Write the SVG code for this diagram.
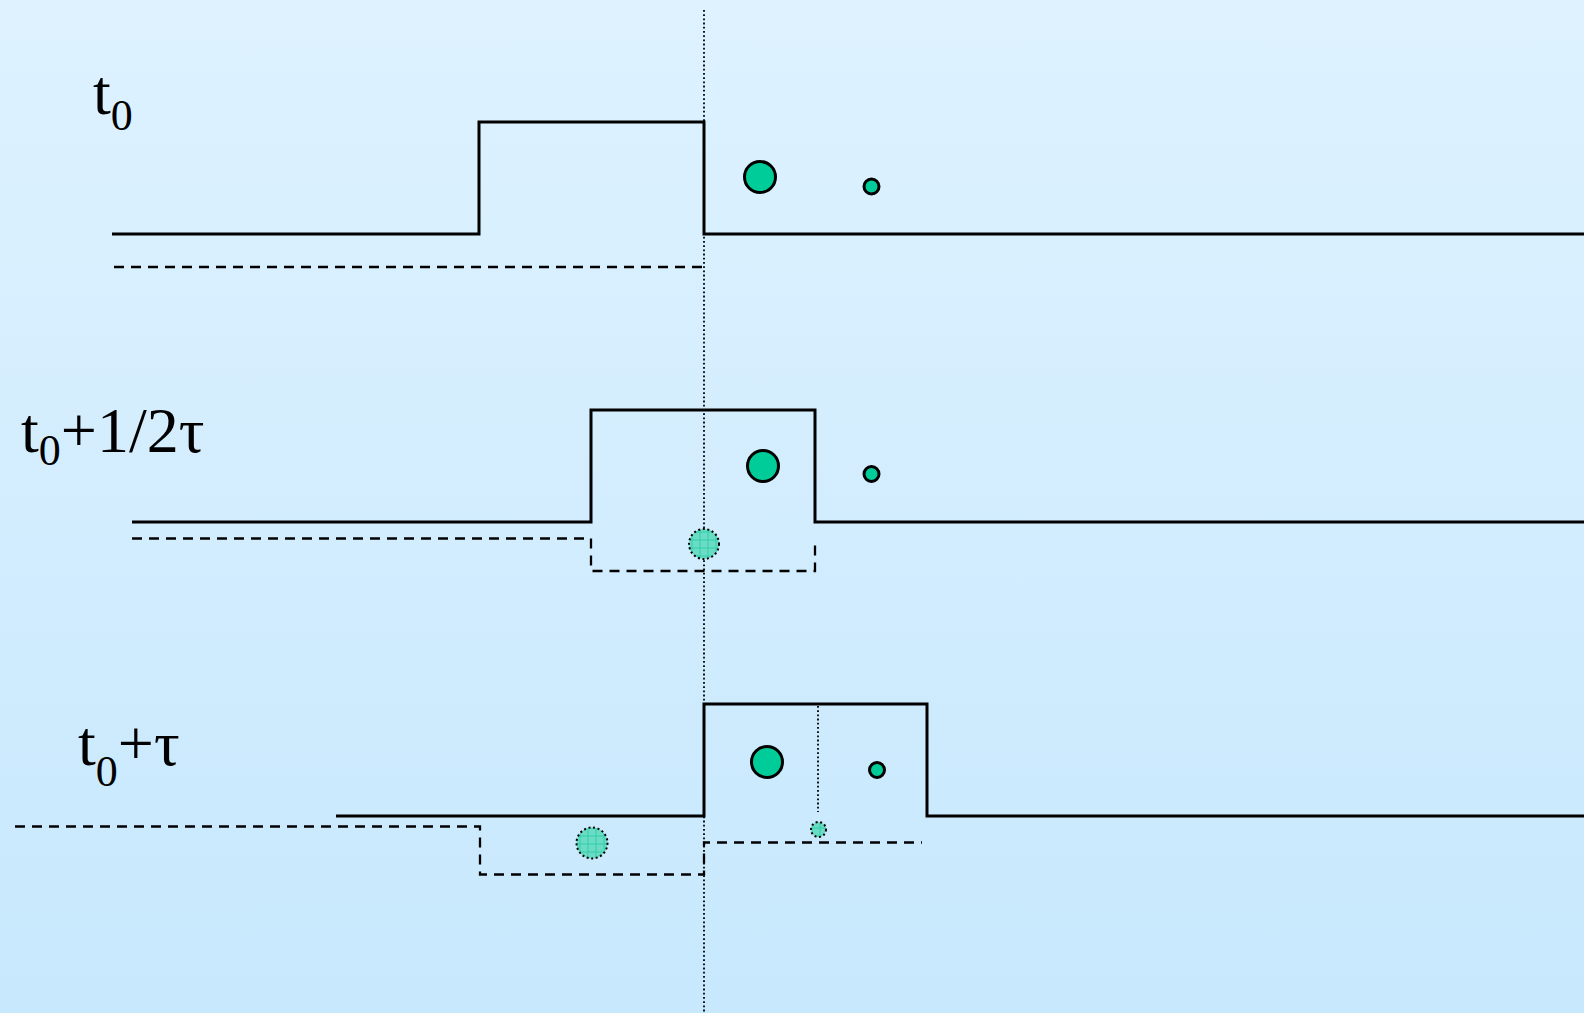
<svg xmlns="http://www.w3.org/2000/svg" width="1584" height="1013" viewBox="0 0 1584 1013">
  <defs>
    <linearGradient id="bg" x1="0" y1="0" x2="0" y2="1">
      <stop offset="0" stop-color="#DEF2FF"/>
      <stop offset="1" stop-color="#C7E8FD"/>
    </linearGradient>
    <pattern id="hatch" width="8" height="8" patternUnits="userSpaceOnUse">
      <rect width="8" height="8" fill="#6ADBC4"/>
      <path d="M0 4H8M4 0V8" stroke="#2FCFA8" stroke-width="1"/>
    </pattern>
    <style>
      .pulse { fill: none; stroke: #000; stroke-width: 3; }
      .trail { fill: none; stroke: #000; stroke-width: 2.3; stroke-dasharray: 10 7; }
      .guide { fill: none; stroke: #000; stroke-width: 1.8; stroke-dasharray: 1.8 2.4; }
      .ball { fill: #00CC99; stroke: #000; stroke-width: 3; }
      .ghost { fill: url(#hatch); stroke: #000; stroke-width: 2; stroke-dasharray: 2 2.6; }
      .lbl { font-family: "Liberation Serif", "Times New Roman", serif; font-size: 64px; fill: #000; }
      .sub { font-size: 44px; }
    </style>
  </defs>

  <rect width="1584" height="1013" fill="url(#bg)"/>

  <!-- reference position -->
  <line class="guide" x1="704" y1="10" x2="704" y2="1013"/>

  <g id="row-t0">
    <text class="lbl" x="93" y="114">t<tspan class="sub" dy="16">0</tspan></text>
    <path class="pulse" d="M112 234H479V122H704V234H1584"/>
    <path class="trail" d="M114 267H704"/>
    <circle class="ball" cx="760" cy="177" r="15.5"/>
    <circle class="ball" cx="871.5" cy="186.5" r="7.5"/>
  </g>

  <g id="row-t0-half">
    <text class="lbl" x="21" y="452">t<tspan class="sub" dy="13">0</tspan><tspan dy="-13">+1/2τ</tspan></text>
    <path class="pulse" d="M132 522H591V410H815V522H1584"/>
    <path class="trail" d="M132 538.5H591V571H815V541"/>
    <circle class="ghost" cx="704" cy="544" r="15"/>
    <circle class="ball" cx="763" cy="466" r="15.5"/>
    <circle class="ball" cx="871.5" cy="474" r="7.5"/>
  </g>

  <g id="row-t0-tau">
    <text class="lbl" x="78" y="765">t<tspan class="sub" dy="21">0</tspan><tspan dy="-21">+τ</tspan></text>
    <path class="pulse" d="M336 816H704V704H927V816H1584"/>
    <path class="trail" d="M15 826.5H480V874.5H704V842.5H922"/>
    <line class="guide" x1="818" y1="706" x2="818" y2="812"/>
    <circle class="ghost" cx="592" cy="843" r="15.5"/>
    <circle class="ghost" cx="818.5" cy="829.5" r="7.5"/>
    <circle class="ball" cx="767" cy="762" r="15.5"/>
    <circle class="ball" cx="877" cy="770" r="7.5"/>
  </g>
</svg>
